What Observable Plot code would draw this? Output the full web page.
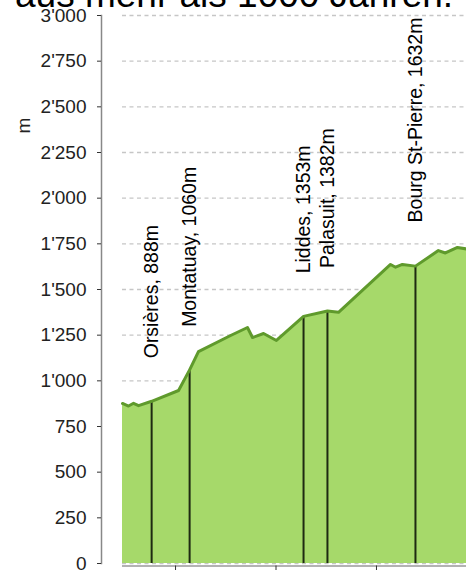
<!DOCTYPE html>
<html>
<head>
<meta charset="utf-8">
<script src="https://cdn.jsdelivr.net/npm/d3@7"></script>
<script src="https://cdn.jsdelivr.net/npm/@observablehq/plot@0.6"></script>
<style>
  html, body { margin: 0; padding: 0; background: #fff; overflow: hidden; }
  #wrap { position: relative; width: 466px; height: 570px; overflow: hidden; font-family: "Liberation Sans", Arial, Helvetica, sans-serif; }
  #heading { position: absolute; left: 15px; top: -24px; font-size: 37px; line-height: 37px; color: #000; white-space: nowrap; }
  #chart { position: absolute; left: 0; top: 0; }
</style>
</head>
<body>
<div id="wrap">
  <div id="heading">aus mehr als 1000 Jahren.</div>
  <div id="chart"></div>
</div>
<script>
// Elevation profile (distance in km, elevation in m)
const profileKm   = [2.36, 2.66, 2.91, 3.16, 3.81, 5.15, 5.70, 6.14, 7.74, 8.58, 8.83, 9.38, 10.02, 11.37, 12.56, 13.11, 15.70, 15.95, 16.29, 16.94, 18.08, 18.43, 19.03, 19.48];
const profileElev = [876,  862,  877,  864,  888,  947,  1060, 1160, 1248, 1292, 1237, 1259, 1221,  1353,  1382,  1375,  1637,  1622,  1637,  1628,  1713,  1700,  1730,  1722];

// Places along the route
const placeNames = ["Orsières", "Montatuay", "Liddes", "Palasuit", "Bourg St-Pierre"];
const placeKm    = [3.81, 5.70, 11.37, 12.56, 16.94];
const placeElev  = [888, 1060, 1353, 1382, 1632];

// Axes
const yTicks      = [0, 250, 500, 750, 1000, 1250, 1500, 1750, 2000, 2250, 2500, 2750, 3000];
const yTickLabels = ["0", "250", "500", "750", "1'000", "1'250", "1'500", "1'750", "2'000", "2'250", "2'500", "2'750", "3'000"];
const xTicks      = [5, 10, 15];
const xDomain     = [2.36, 19.48];
const yLabel      = "m";

const profile = profileKm.map((km, i) => ({km, elev: profileElev[i]}));
const places = placeNames.map((name, i) => ({name, km: placeKm[i], elev: placeElev[i]}));

const FONT = "'Liberation Sans', Arial, Helvetica, sans-serif";

const chart = Plot.plot({
  width: 466,
  height: 570,
  marginLeft: 101,
  marginRight: 0,
  marginTop: 15,
  marginBottom: 7,
  style: {fontFamily: FONT, fontSize: "19px", color: "#222", background: "transparent", overflow: "visible"},
  x: {domain: xDomain, range: [122, 466]},
  y: {domain: [0, 3000]},
  marks: [
    // dashed horizontal grid
    Plot.ruleY(yTicks, {y: d => d, x1: () => xDomain[0], x2: () => xDomain[1], stroke: "#c6c6c6", strokeWidth: 1.4, strokeDasharray: "4,3.5"}),
    // area under profile
    Plot.areaY(profile, {x: "km", y: "elev", fill: "#a6d96a"}),
    // vertical place rules
    Plot.ruleX(places, {x: "km", y1: () => 0, y2: "elev", stroke: "#1e2a12", strokeWidth: 2}),
    // profile line
    Plot.lineY(profile, {x: "km", y: "elev", stroke: "#5f9a2c", strokeWidth: 3, strokeLinejoin: "round"}),
    // place labels
    Plot.text(places, {x: "km", y: "elev", text: d => `${d.name}, ${d.elev}m`, rotate: -90, textAnchor: "start", dy: -43, fontSize: 19.5, fill: "#000"}),
    // y axis line
    Plot.frame({anchor: "left", stroke: "#888", strokeWidth: 1.5}),
    // y axis
    Plot.axisY({ticks: yTicks, tickFormat: d => yTickLabels[yTicks.indexOf(d)], tickSize: 4, tickPadding: 11, stroke: "#333", fill: "#222", fontSize: 19, label: null}),
    // y label
    Plot.text([yLabel], {frameAnchor: "top-left", text: d => d, rotate: -90, dx: -85, dy: 118, fontSize: 19, fill: "#222"}),
    // x axis line
    Plot.ruleY([0], {y: d => d, x1: () => xDomain[0], x2: () => xDomain[1], dy: 2.5, stroke: "#999", strokeWidth: 1.5}),
    // x axis ticks (labels fall outside the view)
    Plot.axisX({ticks: xTicks, tickFormat: () => "", tickSize: 6, dy: 2.5, stroke: "#333", label: null})
  ]
});
document.getElementById("chart").appendChild(chart);
</script>
</body>
</html>
